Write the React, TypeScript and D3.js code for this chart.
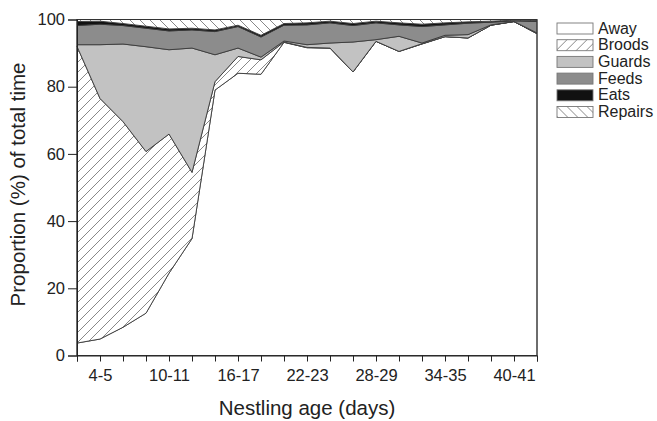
import React, { useEffect, useRef } from 'react';
import * as d3 from 'd3';

// two-day age bins, one value per bin (percent of total time)
const ageBins = ['2-3', '4-5', '6-7', '8-9', '10-11', '12-13', '14-15', '16-17', '18-19', '20-21', '22-23',
  '24-25', '26-27', '28-29', '30-31', '32-33', '34-35', '36-37', '38-39', '40-41', '42-43'];
const away    = [3.7, 4.9, 8.4, 12.6, 24.5, 34.8, 79.0, 84.0, 83.7, 93.2, 91.6, 91.5, 84.4, 93.5, 90.5, 92.7, 94.9, 94.5, 98.3, 99.4, 95.8];
const broods  = [88.3, 71.6, 61.2, 48.1, 41.4, 19.7, 2.5, 5.0, 4.3, 0.1, 0.1, 0.0, 0.0, 0.0, 0.0, 0.1, 0.0, 0.0, 0.0, 0.0, 0.0];
const guards  = [0.5, 16.0, 23.1, 31.2, 25.1, 37.0, 8.0, 2.5, 0.8, 0.3, 0.8, 1.5, 8.9, 0.5, 4.5, 0.2, 0.4, 1.0, 0.1, 0.0, 0.2];
const feeds   = [5.7, 6.1, 5.5, 5.5, 5.6, 5.4, 6.9, 6.4, 6.0, 4.7, 5.9, 6.0, 4.9, 5.0, 3.4, 4.9, 3.1, 3.4, 0.8, 0.2, 3.4];
const eats    = [1.2, 0.9, 0.6, 0.6, 0.6, 0.5, 0.5, 0.4, 0.5, 0.5, 0.6, 0.5, 0.6, 0.5, 0.6, 0.7, 0.6, 0.4, 0.3, 0.2, 0.3];
const repairs = [0.6, 0.5, 1.2, 2.0, 2.8, 2.6, 3.1, 1.7, 4.7, 1.2, 1.0, 0.5, 1.2, 0.5, 1.0, 1.4, 1.0, 0.7, 0.5, 0.2, 0.3];

const behaviours = ['Away', 'Broods', 'Guards', 'Feeds', 'Eats', 'Repairs'];
const yTicks = [0, 20, 40, 60, 80, 100];

const fills = {
  Away: '#ffffff',
  Broods: 'url(#hatchFwd)',
  Guards: '#c2c2c2',
  Feeds: '#8c8c8c',
  Eats: '#111111',
  Repairs: 'url(#hatchBack)',
};

const font = '"Liberation Sans", Arial, sans-serif';

function App() {
  const svgRef = useRef(null);

  useEffect(() => {
    const svg = d3.select(svgRef.current);
    svg.selectAll('*').remove();

    const width = 657;
    const height = 421;
    const left = 77, right = 537, top = 19.5, bottom = 355.5;

    svg.attr('width', width).attr('height', height);

    const defs = svg.append('defs');
    defs.append('pattern')
      .attr('id', 'hatchFwd').attr('patternUnits', 'userSpaceOnUse')
      .attr('width', 10).attr('height', 10)
      .append('path')
      .attr('d', 'M-1,1 L1,-1 M0,10 L10,0 M9,11 L11,9')
      .attr('stroke', '#7a7a7a').attr('stroke-width', 0.9);
    defs.append('pattern')
      .attr('id', 'hatchBack').attr('patternUnits', 'userSpaceOnUse')
      .attr('width', 10).attr('height', 10)
      .append('path')
      .attr('d', 'M-1,9 L1,11 M0,0 L10,10 M9,-1 L11,1')
      .attr('stroke', '#7a7a7a').attr('stroke-width', 0.9);
    // white backgrounds under the hatch
    defs.selectAll('pattern').insert('rect', 'path')
      .attr('width', 10).attr('height', 10).attr('fill', '#fff');

    const rows = ageBins.map((age, i) => ({
      age,
      Away: away[i], Broods: broods[i], Guards: guards[i],
      Feeds: feeds[i], Eats: eats[i], Repairs: repairs[i],
    }));

    const x = d3.scalePoint().domain(ageBins).range([left, right]);
    const y = d3.scaleLinear().domain([0, 100]).range([bottom, top]);

    const series = d3.stack().keys(behaviours)(rows);

    const area = d3.area()
      .x(d => x(d.data.age))
      .y0(d => y(d[0]))
      .y1(d => y(Math.min(100, d[1])));

    const g = svg.append('g');
    g.selectAll('path.layer')
      .data(series)
      .enter()
      .append('path')
      .attr('class', 'layer')
      .attr('d', area)
      .attr('fill', d => fills[d.key])
      .attr('stroke', '#3a3a3a')
      .attr('stroke-width', 0.9)
      .attr('stroke-linejoin', 'round');

    // frame
    svg.append('rect')
      .attr('x', left).attr('y', top)
      .attr('width', right - left).attr('height', bottom - top)
      .attr('fill', 'none').attr('stroke', '#333').attr('stroke-width', 1);

    // x axis
    const xAxis = svg.append('g')
      .attr('transform', `translate(0,${bottom})`)
      .call(d3.axisBottom(x)
        .tickSize(6)
        .tickFormat((d, i) => (i % 3 === 1 ? d : '')));
    xAxis.select('.domain').attr('stroke', '#222');
    xAxis.selectAll('.tick line').attr('stroke', '#222');
    xAxis.selectAll('.tick text')
      .attr('y', 14)
      .attr('fill', '#222')
      .style('font-family', font)
      .style('font-size', '16.5px');

    // y axis
    const yAxis = svg.append('g')
      .attr('transform', `translate(${left},0)`)
      .call(d3.axisLeft(y).tickValues(yTicks).tickSize(9).tickPadding(3));
    yAxis.select('.domain').attr('stroke', '#222');
    yAxis.selectAll('.tick line').attr('stroke', '#222');
    yAxis.selectAll('.tick text')
      .attr('fill', '#222')
      .style('font-family', font)
      .style('font-size', '16.5px');

    // axis titles
    svg.append('text')
      .attr('x', (left + right) / 2).attr('y', 415)
      .attr('text-anchor', 'middle')
      .attr('fill', '#222')
      .style('font-family', font).style('font-size', '20.5px')
      .text('Nestling age (days)');
    svg.append('text')
      .attr('transform', `translate(25,${(top + bottom) / 2 - 3}) rotate(-90)`)
      .attr('text-anchor', 'middle')
      .attr('fill', '#222')
      .style('font-family', font).style('font-size', '20.5px')
      .text('Proportion (%) of total time');

    // legend
    const legend = svg.append('g').attr('transform', 'translate(557,23)');
    const item = legend.selectAll('g')
      .data(behaviours)
      .enter()
      .append('g')
      .attr('transform', (d, i) => `translate(0,${i * 16.7})`);
    item.append('rect')
      .attr('width', 36).attr('height', 11)
      .attr('fill', d => fills[d])
      .attr('stroke', '#777').attr('stroke-width', 0.9);
    item.append('text')
      .attr('x', 41).attr('y', 10.5)
      .attr('fill', '#222')
      .style('font-family', font).style('font-size', '16px')
      .text(d => d);
  }, []);

  return (
    <svg ref={svgRef} style={{ position: 'absolute', left: 0, top: 0, background: '#fff' }}></svg>
  );
}

export default App;
